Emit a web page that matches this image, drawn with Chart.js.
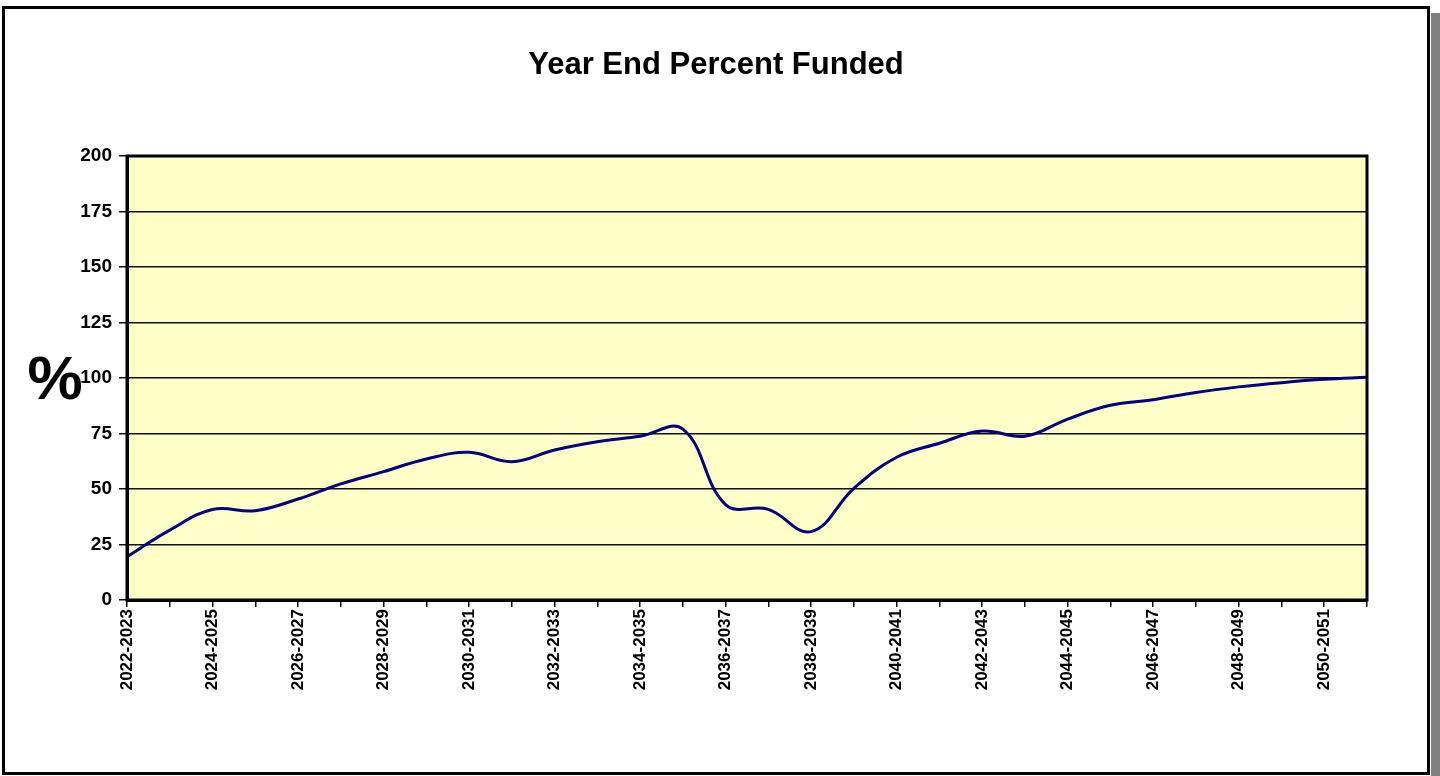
<!DOCTYPE html>
<html>
<head>
<meta charset="utf-8">
<script src="https://cdn.jsdelivr.net/npm/chart.js@4"></script>
<style>
  body { margin: 0; background: #fff; width: 1440px; height: 776px; overflow: hidden; position: relative; }
  #shadow { position: absolute; left: 1431px; top: 13px; width: 20px; height: 800px; background: #808080; }
  #frame { position: absolute; left: 2px; top: 6px; width: 1422px; height: 763px; border: 3px solid #000; background: #fff; }
  #wrap { position: absolute; left: 0; top: 0; width: 1440px; height: 776px; }
</style>
</head>
<body>
<div id="shadow"></div>
<div id="frame"></div>
<div id="wrap"><canvas id="chart" width="1440" height="776"></canvas></div>
<script>
const years = [
    "2022-2023", "2023-2024", "2024-2025", "2025-2026", "2026-2027",
    "2027-2028", "2028-2029", "2029-2030", "2030-2031", "2031-2032",
    "2032-2033", "2033-2034", "2034-2035", "2035-2036", "2036-2037",
    "2037-2038", "2038-2039", "2039-2040", "2040-2041", "2041-2042",
    "2042-2043", "2043-2044", "2044-2045", "2045-2046", "2046-2047",
    "2047-2048", "2048-2049", "2049-2050", "2050-2051", "2051-2052"
];
const percentFunded = [
    19.5, 31.5, 40.8, 40.2, 45.5, 52.3, 57.8, 63.5, 66.5, 62.3,
    67.6, 71.3, 73.8, 77, 43, 40.8, 30.8, 50.3, 64.3, 70.6,
    76.1, 73.8, 81.5, 87.7, 90.2, 93.5, 96, 97.9, 99.4, 100.3
];
const yTicks = [0, 25, 50, 75, 100, 125, 150, 175, 200];

const FONT = '"Liberation Sans", Arial, sans-serif';
Chart.defaults.font.family = FONT;
Chart.defaults.color = '#000';

// yellow plot background, black border round the plot area, title and big % sign
const plotDecor = {
    id: 'plotDecor',
    beforeDraw(chart) {
        const a = chart.chartArea;
        const ctx = chart.ctx;
        ctx.save();
        ctx.fillStyle = '#FFFFC8';
        ctx.fillRect(a.left, a.top, a.right - a.left, a.bottom - a.top);
        ctx.restore();
    },
    afterDraw(chart) {
        const a = chart.chartArea;
        const ctx = chart.ctx;
        ctx.save();
        ctx.strokeStyle = '#000';
        ctx.lineWidth = 3;
        ctx.strokeRect(a.left, a.top, a.right - a.left, a.bottom - a.top);
        ctx.fillStyle = '#000';
        ctx.textAlign = 'center';
        ctx.textBaseline = 'alphabetic';
        ctx.font = 'bold 31px ' + FONT;
        ctx.fillText('Year End Percent Funded', 716, 74);
        ctx.font = 'bold 62px ' + FONT;
        ctx.textBaseline = 'middle';
        ctx.fillText('%', 55, 382);
        ctx.restore();
    }
};

new Chart(document.getElementById('chart'), {
    type: 'line',
    data: {
        labels: years,
        datasets: [{
            data: percentFunded,
            borderColor: '#000080',
            borderWidth: 3,
            pointRadius: 0,
            tension: 0.4,
            fill: false
        }]
    },
    plugins: [plotDecor],
    options: {
        responsive: false,
        animation: false,
        layout: { padding: { left: 0, right: 73, top: 156, bottom: 0 } },
        plugins: {
            legend: { display: false },
            tooltip: { enabled: false },
            title: { display: false }
        },
        scales: {
            x: {
                offset: false,
                afterFit(scale) { scale.height = 176; },
                grid: { drawOnChartArea: false, drawTicks: true, tickLength: 7, color: '#000', lineWidth: 1.5 },
                border: { color: '#000', width: 3 },
                ticks: {
                    autoSkip: false,
                    maxRotation: 90,
                    minRotation: 90,
                    padding: 2,
                    font: { size: 17, weight: 'bold' },
                    callback(value, index) { return index % 2 === 0 ? years[index] : ''; }
                }
            },
            y: {
                min: 0,
                max: 200,
                afterFit(scale) { scale.width = 127; },
                afterBuildTicks(scale) { scale.ticks = yTicks.map(v => ({ value: v })); },
                grid: { color: '#111', lineWidth: 1.5, tickLength: 8 },
                border: { color: '#000', width: 3 },
                ticks: {
                    padding: 7,
                    font: { size: 19, weight: 'bold' }
                }
            }
        }
    }
});
</script>
</body>
</html>
